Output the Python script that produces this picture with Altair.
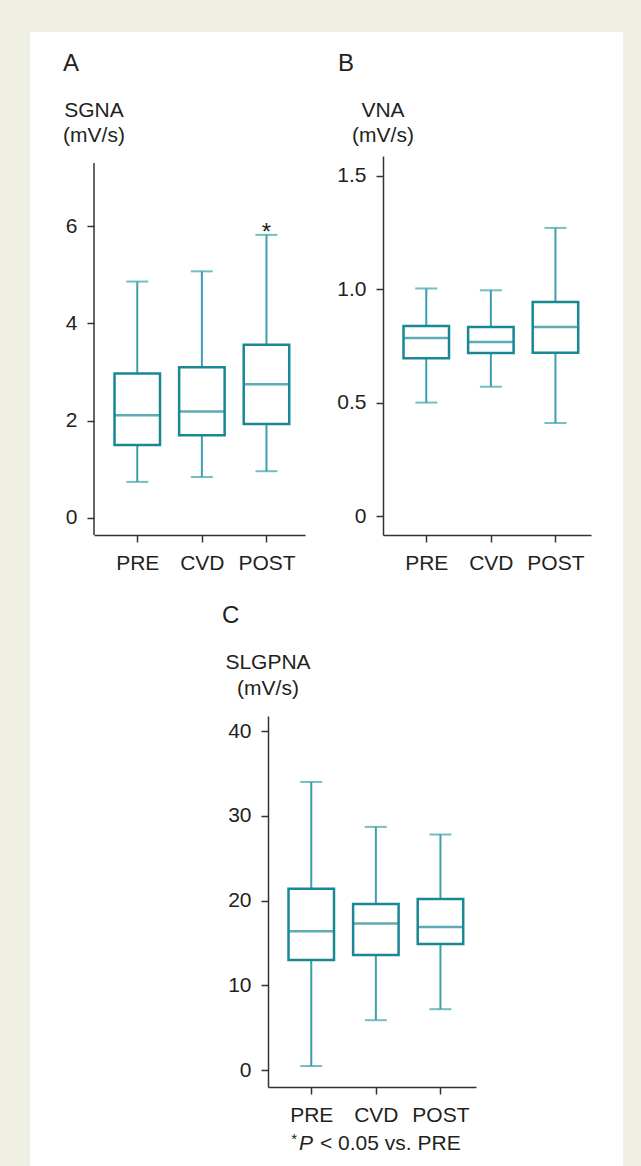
import altair as alt
import pandas as pd

# ---------------- data ----------------
groups = ["PRE", "CVD", "POST"]

sgna_low = [0.74, 0.84, 0.96]
sgna_q1 = [1.50, 1.70, 1.93]
sgna_med = [2.11, 2.19, 2.75]
sgna_q3 = [2.97, 3.10, 3.56]
sgna_high = [4.86, 5.07, 5.82]
sgna_sig = ["", "", "*"]

vna_low = [0.50, 0.57, 0.41]
vna_q1 = [0.695, 0.719, 0.720]
vna_med = [0.785, 0.767, 0.833]
vna_q3 = [0.838, 0.833, 0.943]
vna_high = [1.003, 0.995, 1.270]

slgpna_low = [0.5, 5.9, 7.2]
slgpna_q1 = [13.0, 13.6, 14.9]
slgpna_med = [16.4, 17.3, 16.9]
slgpna_q3 = [21.4, 19.6, 20.2]
slgpna_high = [34.0, 28.7, 27.8]

sgna_ticks = [0, 2, 4, 6]
vna_ticks = [0, 0.5, 1.0, 1.5]
slgpna_ticks = [0, 10, 20, 30, 40]

# ---------------- style ----------------
FONT = "Liberation Sans"
TEXT = "#231F20"
AXIS = "#333333"
BOX = "#1A8795"
WHISK = "#3AA1AC"
BEIGE = "#EFEFE3"
FS = 21


def frame(low, q1, med, q3, high, sig=None):
    return pd.DataFrame({
        "group": groups, "low": low, "q1": q1, "med": med,
        "q3": q3, "high": high, "sig": sig if sig else [""] * len(groups),
    })


def text_layer(t, x, y, align="left", size=FS, style="normal"):
    return alt.Chart(pd.DataFrame({"t": [t]})).mark_text(
        align=align, baseline="alphabetic", font=FONT, fontSize=size,
        fontStyle=style, color=TEXT,
    ).encode(x=alt.value(x), y=alt.value(y), text="t:N")


def panel(df, width, height, ydom, yticks, label_expr, pad, align,
          texts, rule_top=None, pre=None, star=False):
    x = alt.X("group:N", sort=groups,
              scale=alt.Scale(type="point", padding=pad, align=align),
              axis=alt.Axis(title=None, labelAngle=0, labelFont=FONT,
                            labelFontSize=FS, labelColor=TEXT, labelPadding=10,
                            tickSize=7, tickColor=AXIS, tickWidth=1.5,
                            domainColor=AXIS, domainWidth=1.5, zindex=1))
    yscale = alt.Scale(domain=ydom, nice=False, zero=False)
    yaxis = alt.Axis(title=None, values=yticks, labelExpr=label_expr,
                     grid=False, labelFont=FONT, labelFontSize=FS,
                     labelColor=TEXT, labelPadding=10, tickSize=7,
                     tickColor=AXIS, tickWidth=1.5, domain=rule_top is None,
                     domainColor=AXIS, domainWidth=1.5, zindex=1)
    base = alt.Chart(df)
    layers = []
    if pre is not None:
        layers.extend(pre)
    layers.append(base.mark_rule(color=WHISK, strokeWidth=2).encode(
        x=x, y=alt.Y("low:Q", scale=yscale, axis=yaxis), y2="high:Q"))
    layers.append(base.mark_tick(color=WHISK, size=22, thickness=2).encode(
        x=x, y="low:Q"))
    layers.append(base.mark_tick(color=WHISK, size=22, thickness=2).encode(
        x=x, y="high:Q"))
    layers.append(base.mark_bar(fill="white", stroke=BOX, strokeWidth=2.5,
                                size=45.5).encode(x=x, y="q1:Q", y2="q3:Q"))
    layers.append(base.mark_tick(color=BOX, size=45.5, thickness=2.5).encode(
        x=x, y="med:Q"))
    if star:
        layers.append(base.mark_text(font=FONT, fontSize=24, color=TEXT,
                                     baseline="alphabetic", dy=5).encode(
            x=x, y="high:Q", text="sig:N"))
    if rule_top is not None:
        layers.append(alt.Chart(pd.DataFrame({"a": [0]})).mark_rule(
            color=AXIS, strokeWidth=1.5).encode(
            x=alt.value(0), y=alt.value(rule_top), y2=alt.value(height)))
    layers.extend(texts)
    return alt.layer(*layers).properties(width=width, height=height)


# white page panel behind everything (drawn in panel A, unclipped)
white = alt.Chart(pd.DataFrame({"a": [0]})).mark_rect(color="white").encode(
    x=alt.value(-64), x2=alt.value(529), y=alt.value(-124), y2=alt.value(1010))

lbl_fmt = "datum.value == 0 ? '0' : format(datum.value, '.1f')"

pA = panel(frame(sgna_low, sgna_q1, sgna_med, sgna_q3, sgna_high, sgna_sig),
           211, 379, [-0.352, 7.442], sgna_ticks, "format(datum.value, 'd')",
           0.633, 0.529,
           [text_layer("A", -31, -84.6, size=24),
            text_layer("SGNA", 0, -39, align="center"),
            text_layer("(mV/s)", 0, -14.5, align="center")],
           rule_top=7, pre=[white], star=True)

pB = panel(frame(vna_low, vna_q1, vna_med, vna_q3, vna_high),
           208, 379, [-0.0837, 1.587], vna_ticks, lbl_fmt,
           0.61, 0.549,
           [text_layer("B", -45, -84.6, size=24),
            text_layer("VNA", 0, -39, align="center"),
            text_layer("(mV/s)", 0, -14.5, align="center")])

pC = panel(frame(slgpna_low, slgpna_q1, slgpna_med, slgpna_q3, slgpna_high),
           208, 371, [-1.98, 41.78], slgpna_ticks, "format(datum.value, 'd')",
           0.61, 0.549,
           [text_layer("C", -46, -93, size=24),
            text_layer("SLGPNA", 0, -47, align="center"),
            text_layer("(mV/s)", 0, -21, align="center"),
            text_layer("*", 29, 428, align="right", size=15),
            text_layer("P", 31, 434, style="italic"),
            text_layer("< 0.05 vs. PRE", 52, 434)])

spacer = alt.Chart(pd.DataFrame({"a": [0]})).mark_point(opacity=0).properties(
    width=100, height=371)

row1 = alt.hconcat(pA, pB, spacing=78, bounds="flush")
row2 = alt.hconcat(spacer, pC, spacing=74, bounds="flush")

# nested concat groups count as zero-height under flush bounds,
# so the spacing covers row 1's plot height (379) plus the gap (181)
chart = alt.vconcat(row1, row2, spacing=560, bounds="flush").configure(
    background=BEIGE,
    padding={"left": 30, "top": 32, "right": 18, "bottom": 0},
).configure_view(stroke=None)

chart.save("out.html", embed_options={"renderer": "svg", "actions": False})
